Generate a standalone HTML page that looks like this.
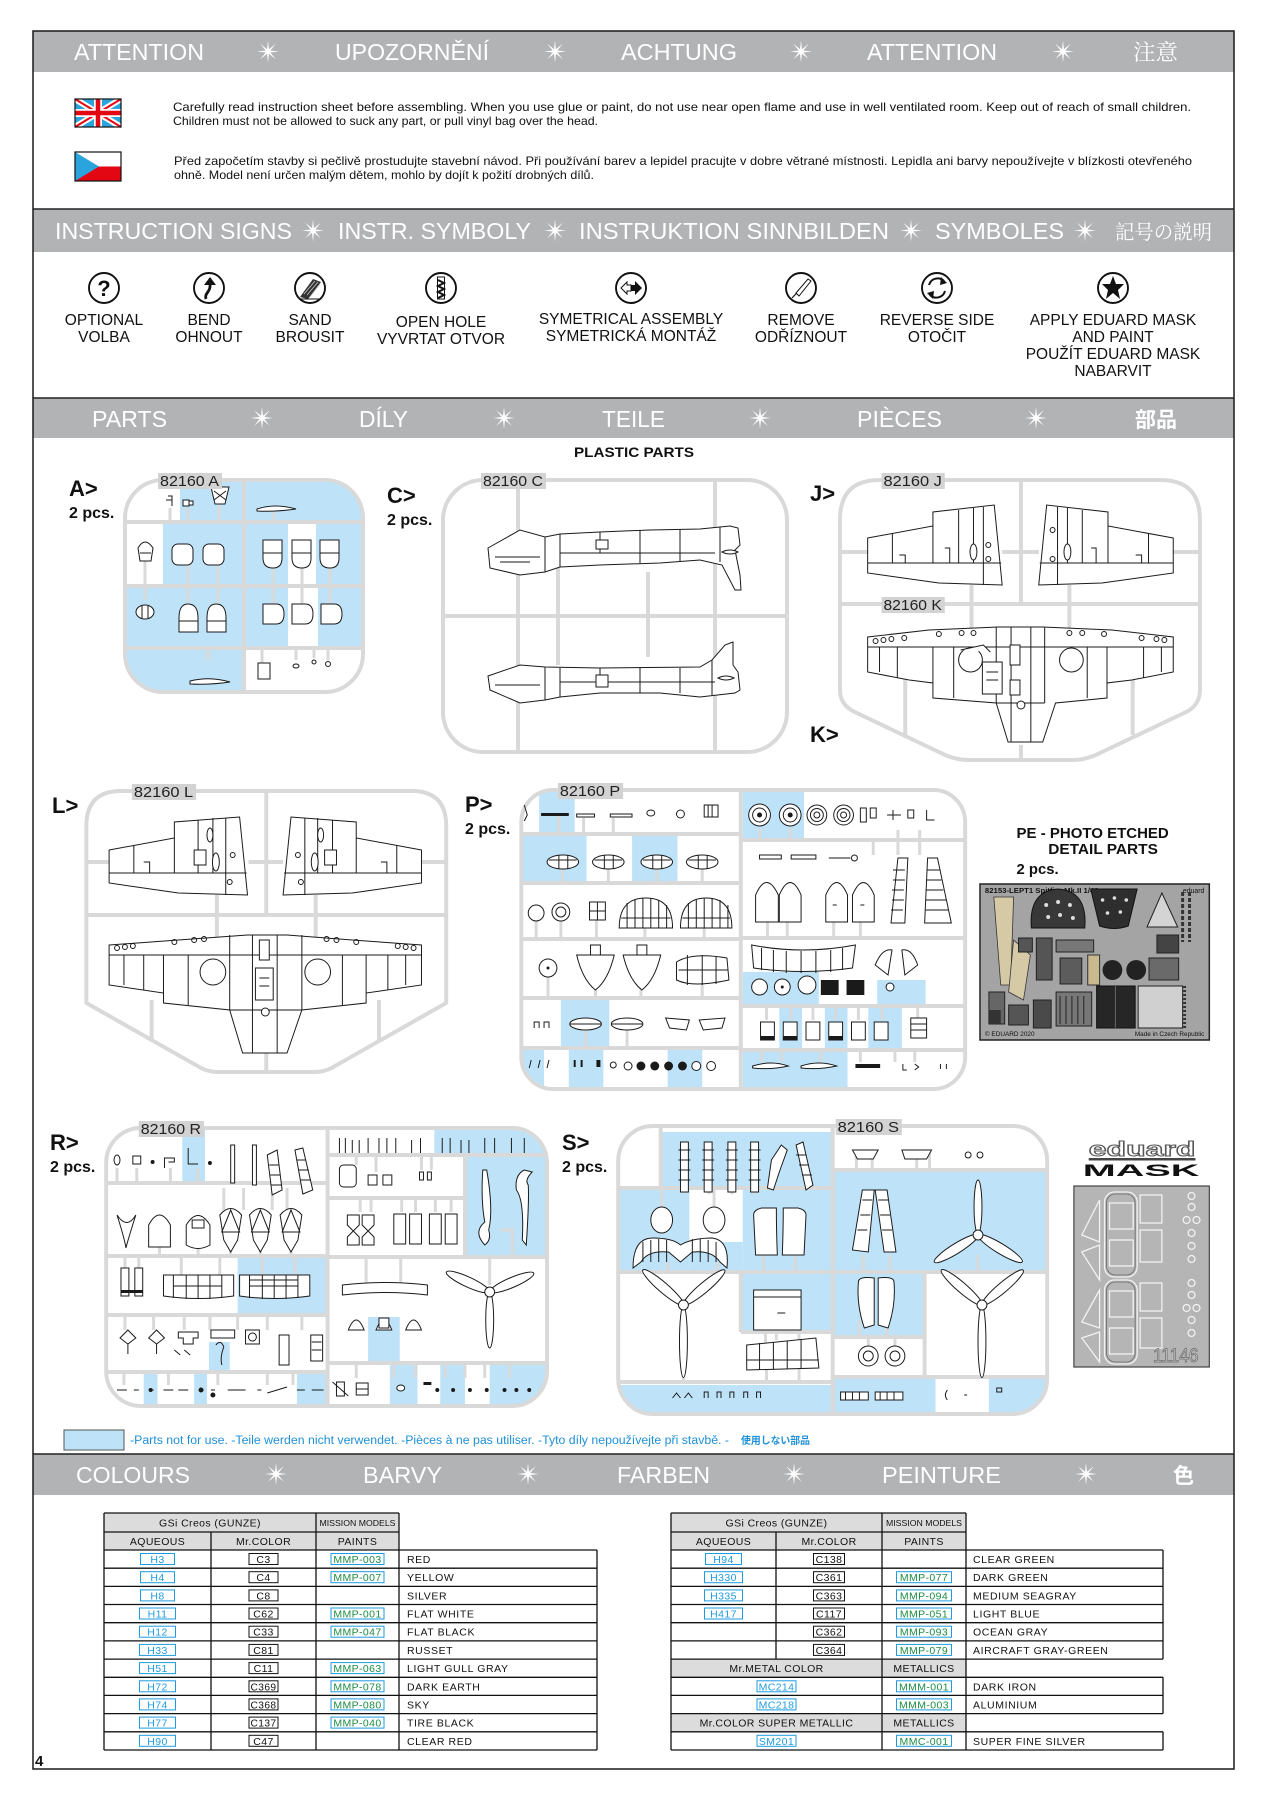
<!DOCTYPE html>
<html><head><meta charset="utf-8"><style>
html,body{margin:0;padding:0;background:#fff}
svg{display:block}
text{font-family:"Liberation Sans",Arial,sans-serif}
.g{stroke:#d9d9d9;stroke-width:4;fill:none}
.gt{stroke:#d9d9d9;stroke-width:3;fill:none}
.b{fill:#bee3f8}
.p{fill:#fff;stroke:#1a1a1a;stroke-width:1}
.n{fill:none;stroke:#1a1a1a;stroke-width:1}
.k{fill:#1a1a1a}
.hd{fill:#fff;font-size:23px}
.lb{font-size:15.5px;fill:#111;text-anchor:middle}
.sl{fill:#d3d3d3}
.st{font-size:15px;fill:#222}
.big{font-size:22px;font-weight:bold;fill:#111}
.pcs{font-size:16px;font-weight:bold;fill:#111}
.tt{font-size:10.5px;fill:#111;letter-spacing:0.6px}
.tc{font-size:10.5px;fill:#111;text-anchor:middle;letter-spacing:0.4px}
.hb{fill:#fff;stroke:#1e9be0;stroke-width:1}
.ht{font-size:10.5px;fill:#1e9be0;text-anchor:middle;letter-spacing:0.4px}
.cb{fill:#fff;stroke:#111;stroke-width:1}
.mt{font-size:10.5px;fill:#1c8c44;text-anchor:middle;letter-spacing:0.4px}
.tl{stroke:#111;stroke-width:1.3}
</style></head><body>
<svg width="1261" height="1797" viewBox="0 0 1261 1797" xmlns="http://www.w3.org/2000/svg">
<rect width="1261" height="1797" fill="#fff"/>

<!-- header bands -->
<rect x="33" y="31" width="1201" height="41" fill="#b2b3b5"/>
<rect x="33" y="209" width="1201" height="43" fill="#b2b3b5"/>
<rect x="33" y="398" width="1201" height="40" fill="#b2b3b5"/>
<rect x="33" y="1454" width="1201" height="41" fill="#b2b3b5"/>
<g stroke="#222" stroke-width="1.5">
<line x1="33" y1="209" x2="1234" y2="209"/>
<line x1="33" y1="398" x2="1234" y2="398"/>
<line x1="33" y1="1454" x2="1234" y2="1454"/>
</g>
<rect x="33" y="31" width="1201" height="1738" fill="none" stroke="#1a1a1a" stroke-width="1.5"/>

<!-- header 1 -->
<text class="hd" x="74" y="60" textLength="130" lengthAdjust="spacingAndGlyphs">ATTENTION</text>
<text class="hd" x="335" y="60" textLength="154" lengthAdjust="spacingAndGlyphs">UPOZORNĚNÍ</text>
<text class="hd" x="621" y="60" textLength="116" lengthAdjust="spacingAndGlyphs">ACHTUNG</text>
<text class="hd" x="867" y="60" textLength="130" lengthAdjust="spacingAndGlyphs">ATTENTION</text>
<text x="1133" y="60" fill="#fff" font-size="22" style="font-family:'Liberation Serif','Noto Serif CJK SC',serif" textLength="45" lengthAdjust="spacingAndGlyphs">注意</text>
<g fill="#fff">
<polygon transform="translate(268,51.5)" points="0,-11 0.96,-2.31 7.78,-7.78 2.31,-0.96 11,0 2.31,0.96 7.78,7.78 0.96,2.31 0,11 -0.96,2.31 -7.78,7.78 -2.31,0.96 -11,0 -2.31,-0.96 -7.78,-7.78 -0.96,-2.31"/>
<polygon transform="translate(555,51.5)" points="0,-11 0.96,-2.31 7.78,-7.78 2.31,-0.96 11,0 2.31,0.96 7.78,7.78 0.96,2.31 0,11 -0.96,2.31 -7.78,7.78 -2.31,0.96 -11,0 -2.31,-0.96 -7.78,-7.78 -0.96,-2.31"/>
<polygon transform="translate(801,51.5)" points="0,-11 0.96,-2.31 7.78,-7.78 2.31,-0.96 11,0 2.31,0.96 7.78,7.78 0.96,2.31 0,11 -0.96,2.31 -7.78,7.78 -2.31,0.96 -11,0 -2.31,-0.96 -7.78,-7.78 -0.96,-2.31"/>
<polygon transform="translate(1063,51.5)" points="0,-11 0.96,-2.31 7.78,-7.78 2.31,-0.96 11,0 2.31,0.96 7.78,7.78 0.96,2.31 0,11 -0.96,2.31 -7.78,7.78 -2.31,0.96 -11,0 -2.31,-0.96 -7.78,-7.78 -0.96,-2.31"/>
<polygon transform="translate(313,230.5)" points="0,-11 0.96,-2.31 7.78,-7.78 2.31,-0.96 11,0 2.31,0.96 7.78,7.78 0.96,2.31 0,11 -0.96,2.31 -7.78,7.78 -2.31,0.96 -11,0 -2.31,-0.96 -7.78,-7.78 -0.96,-2.31"/>
<polygon transform="translate(555,230.5)" points="0,-11 0.96,-2.31 7.78,-7.78 2.31,-0.96 11,0 2.31,0.96 7.78,7.78 0.96,2.31 0,11 -0.96,2.31 -7.78,7.78 -2.31,0.96 -11,0 -2.31,-0.96 -7.78,-7.78 -0.96,-2.31"/>
<polygon transform="translate(911,230.5)" points="0,-11 0.96,-2.31 7.78,-7.78 2.31,-0.96 11,0 2.31,0.96 7.78,7.78 0.96,2.31 0,11 -0.96,2.31 -7.78,7.78 -2.31,0.96 -11,0 -2.31,-0.96 -7.78,-7.78 -0.96,-2.31"/>
<polygon transform="translate(1085,230.5)" points="0,-11 0.96,-2.31 7.78,-7.78 2.31,-0.96 11,0 2.31,0.96 7.78,7.78 0.96,2.31 0,11 -0.96,2.31 -7.78,7.78 -2.31,0.96 -11,0 -2.31,-0.96 -7.78,-7.78 -0.96,-2.31"/>
<polygon transform="translate(262,418)" points="0,-11 0.96,-2.31 7.78,-7.78 2.31,-0.96 11,0 2.31,0.96 7.78,7.78 0.96,2.31 0,11 -0.96,2.31 -7.78,7.78 -2.31,0.96 -11,0 -2.31,-0.96 -7.78,-7.78 -0.96,-2.31"/>
<polygon transform="translate(504,418)" points="0,-11 0.96,-2.31 7.78,-7.78 2.31,-0.96 11,0 2.31,0.96 7.78,7.78 0.96,2.31 0,11 -0.96,2.31 -7.78,7.78 -2.31,0.96 -11,0 -2.31,-0.96 -7.78,-7.78 -0.96,-2.31"/>
<polygon transform="translate(760,418)" points="0,-11 0.96,-2.31 7.78,-7.78 2.31,-0.96 11,0 2.31,0.96 7.78,7.78 0.96,2.31 0,11 -0.96,2.31 -7.78,7.78 -2.31,0.96 -11,0 -2.31,-0.96 -7.78,-7.78 -0.96,-2.31"/>
<polygon transform="translate(1036,418)" points="0,-11 0.96,-2.31 7.78,-7.78 2.31,-0.96 11,0 2.31,0.96 7.78,7.78 0.96,2.31 0,11 -0.96,2.31 -7.78,7.78 -2.31,0.96 -11,0 -2.31,-0.96 -7.78,-7.78 -0.96,-2.31"/>
<polygon transform="translate(276,1474)" points="0,-11 0.96,-2.31 7.78,-7.78 2.31,-0.96 11,0 2.31,0.96 7.78,7.78 0.96,2.31 0,11 -0.96,2.31 -7.78,7.78 -2.31,0.96 -11,0 -2.31,-0.96 -7.78,-7.78 -0.96,-2.31"/>
<polygon transform="translate(528,1474)" points="0,-11 0.96,-2.31 7.78,-7.78 2.31,-0.96 11,0 2.31,0.96 7.78,7.78 0.96,2.31 0,11 -0.96,2.31 -7.78,7.78 -2.31,0.96 -11,0 -2.31,-0.96 -7.78,-7.78 -0.96,-2.31"/>
<polygon transform="translate(794,1474)" points="0,-11 0.96,-2.31 7.78,-7.78 2.31,-0.96 11,0 2.31,0.96 7.78,7.78 0.96,2.31 0,11 -0.96,2.31 -7.78,7.78 -2.31,0.96 -11,0 -2.31,-0.96 -7.78,-7.78 -0.96,-2.31"/>
<polygon transform="translate(1086,1474)" points="0,-11 0.96,-2.31 7.78,-7.78 2.31,-0.96 11,0 2.31,0.96 7.78,7.78 0.96,2.31 0,11 -0.96,2.31 -7.78,7.78 -2.31,0.96 -11,0 -2.31,-0.96 -7.78,-7.78 -0.96,-2.31"/>
</g>

<!-- attention body -->
<g>
<rect x="75" y="99" width="46" height="28" fill="#2aa4dc"/>
<path d="M75 99 L121 127 M121 99 L75 127" stroke="#fff" stroke-width="6"/>
<path d="M75 99 L121 127 M121 99 L75 127" stroke="#e30613" stroke-width="2"/>
<path d="M98 99 V127 M75 113 H121" stroke="#fff" stroke-width="8"/>
<path d="M98 99 V127 M75 113 H121" stroke="#e30613" stroke-width="4.5"/>
<rect x="75" y="99" width="46" height="28" fill="none" stroke="#111" stroke-width="1.2"/>
<rect x="75" y="152" width="46" height="14.5" fill="#fff"/>
<rect x="75" y="166.5" width="46" height="14.5" fill="#e30613"/>
<polygon points="75,152 99,166.5 75,181" fill="#2aa4dc"/>
<rect x="75" y="152" width="46" height="29" fill="none" stroke="#111" stroke-width="1.2"/>
</g>
<g font-size="12" fill="#111">
<text x="173" y="111" textLength="1018" lengthAdjust="spacingAndGlyphs">Carefully read instruction sheet before assembling. When you use glue or paint, do not use near open flame and use in well ventilated room. Keep out of reach of small children.</text>
<text x="173" y="125" textLength="425" lengthAdjust="spacingAndGlyphs">Children must not be allowed to suck any part, or pull vinyl bag over the head.</text>
<text x="174" y="165" textLength="1018" lengthAdjust="spacingAndGlyphs">Před započetím stavby si pečlivě prostudujte stavební návod. Při používání barev a lepidel pracujte v dobre větrané místnosti. Lepidla ani barvy nepoužívejte v blízkosti otevřeného</text>
<text x="174" y="179" textLength="420" lengthAdjust="spacingAndGlyphs">ohně. Model není určen malým dětem, mohlo by dojít k požití drobných dílů.</text>
</g>

<!-- header 2 text -->
<text class="hd" x="55" y="239" textLength="237" lengthAdjust="spacingAndGlyphs">INSTRUCTION SIGNS</text>
<text class="hd" x="338" y="239" textLength="193" lengthAdjust="spacingAndGlyphs">INSTR. SYMBOLY</text>
<text class="hd" x="579" y="239" textLength="310" lengthAdjust="spacingAndGlyphs">INSTRUKTION  SINNBILDEN</text>
<text class="hd" x="935" y="239" textLength="129" lengthAdjust="spacingAndGlyphs">SYMBOLES</text>
<text x="1115" y="239" fill="#fff" font-size="20" style="font-family:'Liberation Serif','Noto Serif CJK SC',serif" textLength="97" lengthAdjust="spacingAndGlyphs">記号の説明</text>

<!-- icons -->
<g fill="none" stroke="#111" stroke-width="1.9">
<ellipse cx="104" cy="288" rx="15" ry="15"/>
<ellipse cx="209" cy="288" rx="15" ry="15"/>
<ellipse cx="310" cy="288" rx="15" ry="15"/>
<ellipse cx="441" cy="288" rx="15" ry="15"/>
<ellipse cx="631" cy="288" rx="15" ry="15"/>
<ellipse cx="801" cy="288" rx="15" ry="15"/>
<ellipse cx="937" cy="288" rx="15" ry="15"/>
<ellipse cx="1113" cy="288" rx="15" ry="15"/>
</g>
<text x="104" y="296" font-size="22" font-weight="bold" text-anchor="middle" fill="#111">?</text>
<path d="M206 299 C204 293 211 292 210 284" fill="none" stroke="#111" stroke-width="2.8"/>
<polygon points="204,285 210,277 216,285" fill="#111"/>
<polygon points="300,297 313,279 321,282 308,299" fill="#333"/>
<path d="M304 294 L315 281 M307 295 L318 282 M310 297 L320 284" stroke="#ccc" stroke-width="0.8"/>
<path d="M301 299 L319 299" stroke="#111" stroke-width="1"/>
<rect x="437.5" y="277" width="7" height="22" fill="#fff" stroke="#111" stroke-width="1"/>
<path d="M438 280 L444 283 L438 286 L444 289 L438 292 L444 295 L438 298" fill="none" stroke="#111" stroke-width="2"/>
<polygon points="621,288 627,282 627,285 631,285 631,291 627,291 627,294" fill="#fff" stroke="#111" stroke-width="1"/>
<polygon points="642,288 635,281 635,285 631,285 631,291 635,291 635,295" fill="#111"/>
<path d="M792 298 L809 280" stroke="#111" stroke-width="1.2"/>
<polygon points="796,293 808,279 811,281 799,296" fill="#fff" stroke="#111" stroke-width="1"/>
<path d="M929 285 A9 9 0 0 1 944 281" fill="none" stroke="#111" stroke-width="2"/>
<polygon points="941,277 947,283 940,285" fill="#111"/>
<path d="M945 291 A9 9 0 0 1 930 295" fill="none" stroke="#111" stroke-width="2"/>
<polygon points="933,299 927,293 934,291" fill="#111"/>
<polygon points="1113,276 1116,284 1124,284 1118,290 1120,299 1113,293 1106,299 1108,290 1102,284 1110,284" fill="#111"/>

<g class="lb">
<text x="104" y="325">OPTIONAL</text><text x="104" y="342">VOLBA</text>
<text x="209" y="325">BEND</text><text x="209" y="342">OHNOUT</text>
<text x="310" y="325">SAND</text><text x="310" y="342">BROUSIT</text>
<text x="441" y="327">OPEN HOLE</text><text x="441" y="344">VYVRTAT OTVOR</text>
<text x="631" y="324">SYMETRICAL ASSEMBLY</text><text x="631" y="341">SYMETRICKÁ MONTÁŽ</text>
<text x="801" y="325">REMOVE</text><text x="801" y="342">ODŘÍZNOUT</text>
<text x="937" y="325">REVERSE SIDE</text><text x="937" y="342">OTOČIT</text>
<text x="1113" y="325">APPLY EDUARD MASK</text><text x="1113" y="342">AND PAINT</text>
<text x="1113" y="359">POUŽÍT EDUARD MASK</text><text x="1113" y="376">NABARVIT</text>
</g>

<!-- header 3 text -->
<text class="hd" x="92" y="427" textLength="75" lengthAdjust="spacingAndGlyphs">PARTS</text>
<text class="hd" x="359" y="427" textLength="49" lengthAdjust="spacingAndGlyphs">DÍLY</text>
<text class="hd" x="602" y="427" textLength="63" lengthAdjust="spacingAndGlyphs">TEILE</text>
<text class="hd" x="857" y="427" textLength="85" lengthAdjust="spacingAndGlyphs">PIÈCES</text>
<text x="1135" y="427" fill="#fff" font-size="21" font-weight="bold" style="font-family:'Liberation Sans','Noto Sans CJK JP',sans-serif" textLength="42" lengthAdjust="spacingAndGlyphs">部品</text>

<text x="634" y="457" font-size="14" font-weight="bold" text-anchor="middle" fill="#111" textLength="120" lengthAdjust="spacingAndGlyphs">PLASTIC PARTS</text>

<!-- big labels -->
<text class="big" x="69" y="496">A&gt;</text><text class="pcs" x="69" y="518">2 pcs.</text>
<text class="big" x="387" y="503">C&gt;</text><text class="pcs" x="387" y="525">2 pcs.</text>
<text class="big" x="810" y="501">J&gt;</text>
<text class="big" x="810" y="742">K&gt;</text>
<text class="big" x="52" y="813">L&gt;</text>
<text class="big" x="465" y="812">P&gt;</text><text class="pcs" x="465" y="834">2 pcs.</text>
<text class="big" x="50" y="1150">R&gt;</text><text class="pcs" x="50" y="1172">2 pcs.</text>
<text class="big" x="562" y="1150">S&gt;</text><text class="pcs" x="562" y="1172">2 pcs.</text>

<defs>
<clipPath id="cA"><rect x="125" y="480" width="238" height="212" rx="38"/></clipPath>
<clipPath id="cP"><rect x="527" y="790" width="449" height="299" rx="32"/></clipPath>
<clipPath id="cR"><rect x="107" y="1128" width="446" height="278" rx="35"/></clipPath>
<clipPath id="cS"><rect x="625" y="1126" width="434" height="288" rx="35"/></clipPath>
</defs>

<!-- ===== SPRUE A ===== -->
<g clip-path="url(#cA)" class="b">
<rect x="180" y="480" width="63" height="42"/><rect x="246" y="480" width="117" height="42"/>
<rect x="163" y="522" width="80" height="64"/><rect x="246" y="522" width="42" height="64"/><rect x="316" y="522" width="47" height="64"/>
<rect x="125" y="586" width="118" height="62"/><rect x="246" y="586" width="42" height="62"/><rect x="318" y="586" width="45" height="62"/>
<rect x="125" y="648" width="118" height="44"/>
</g>
<rect x="125" y="480" width="238" height="212" rx="38" class="g"/>
<g class="g">
<path d="M244 480 V692 M125 522 H363 M125 586 H363 M125 648 H363"/>
</g>
<g class="gt">
<path d="M170 508 V522 M188 508 V522 M219 505 V522 M274 512 V522 M145 560 V600 M188 565 V603 M218 565 V603 M273 568 V604 M302 568 V604 M330 568 V604 M208 648 V660 M262 648 V663 M296 648 V660 M314 648 V658 M328 648 V660"/>
</g>
<g>
<path class="n" d="M168 496 h4 v10 M166 500 h6" stroke-width="1.5"/>
<rect class="p" x="183" y="500" width="6" height="6"/><rect class="p" x="189" y="501" width="4" height="4"/>
<path class="p" d="M211 487 L229 487 L225 504 L215 504 Z"/><path class="n" d="M214 491 L226 500 M226 491 L214 500"/>
<path class="p" d="M257 509 Q275 503 296 509 Q275 512 257 511 Z"/>
<path class="p" d="M138 548 Q145 536 153 548 L151 561 L140 561 Z"/><path class="n" d="M140 553 H151"/>
<rect class="p" x="172" y="544" width="21" height="21" rx="6"/>
<rect class="p" x="203" y="544" width="21" height="21" rx="6"/>
<path class="p" d="M263 540 h19 v18 q0 10 -9 10 q-10 0 -10 -10 z"/><path class="n" d="M263 553 H282"/>
<path class="p" d="M292 540 h19 v18 q0 10 -9 10 q-10 0 -10 -10 z"/><path class="n" d="M292 553 H311"/>
<path class="p" d="M320 540 h19 v18 q0 10 -9 10 q-10 0 -10 -10 z"/><path class="n" d="M320 553 H339"/>
<ellipse class="p" cx="145" cy="612" rx="9" ry="7"/><path class="n" d="M142 606 V618 M148 606 V618"/>
<path class="p" d="M179 618 q0 -14 9 -14 q10 0 10 14 v14 h-19 z"/><path class="n" d="M179 621 H198"/>
<path class="p" d="M207 618 q0 -14 9 -14 q10 0 10 14 v14 h-19 z"/><path class="n" d="M207 621 H226"/>
<path class="p" d="M263 604 h13 q8 0 8 10 q0 10 -8 10 h-13 z"/>
<path class="p" d="M292 604 h13 q8 0 8 10 q0 10 -8 10 h-13 z"/>
<path class="p" d="M321 604 h13 q8 0 8 10 q0 10 -8 10 h-13 z"/>
<path class="p" d="M190 681 Q210 676 230 682 Q210 685 190 684 Z"/>
<rect class="p" x="258" y="663" width="12" height="16"/>
<ellipse class="p" cx="296" cy="666" rx="3" ry="2"/><circle class="p" cx="314" cy="662" r="2"/><circle class="p" cx="328" cy="664" r="2.5"/>
</g>
<rect class="sl" x="158" y="473" width="64" height="16"/>
<text class="st" x="160" y="486" textLength="59" lengthAdjust="spacingAndGlyphs">82160 A</text>

<!-- ===== SPRUE C ===== -->
<rect x="443" y="480" width="344" height="272" rx="40" class="g"/>
<path class="g" d="M518 480 V752 M715 480 V752 M443 616 H787 M558 568 V665 M648 572 V657"/>
<path class="p" d="M488 548 L520 530 L545 537 L560 534 L600 532 L650 530 L700 529 L730 526 L738 528 L740 545 L735 550 L740 575 L741 590 L735 590 L722 565 L700 560 L660 563 L600 565 L560 567 L545 572 L520 575 L490 568 Z"/>
<path class="n" d="M545 537 V572 M560 534 V567 M560 553 H715 M600 532 V553 M640 531 V563 M680 530 V561 M720 527 V562 M495 557 H540 M500 562 H530"/>
<rect class="p" x="596" y="540" width="12" height="9"/>
<path class="p" d="M722 552 Q730 548 738 552 Q730 556 722 552 Z" fill="#888"/>
<path class="p" d="M488 676 L520 665 L545 667 L600 668 L700 667 L712 660 L725 645 L733 642 L733 665 L738 672 L740 690 L735 693 L700 697 L660 693 L600 693 L560 697 L545 700 L520 703 L490 690 Z"/>
<path class="n" d="M545 667 V700 M560 668 V697 M560 682 H715 M600 668 V682 M640 668 V693 M680 668 V693 M712 660 V695 M495 685 H540"/>
<rect class="p" x="596" y="675" width="12" height="12"/>
<path class="p" d="M718 678 Q726 674 734 678 Q726 682 718 678 Z" fill="#888"/>
<rect class="sl" x="481" y="473" width="65" height="16"/>
<text class="st" x="483" y="486" textLength="60" lengthAdjust="spacingAndGlyphs">82160 C</text>

<!-- ===== SPRUE J / K ===== -->
<g transform="translate(9.2,0) scale(0.989,1)">
<path class="g" d="M880 480 H1164 Q1204 480 1204 520 V690 Q1204 705 1190 712 L1105 752 Q1090 760 1075 760 H970 Q955 760 940 752 L855 712 Q840 705 840 690 V520 Q840 480 880 480 Z"/>
<path class="g" d="M840 604 H1204 M1023 480 V604 M1023 745 V760 M973 585 V628 M1072 585 V628 M906 675 V735 M1136 675 V735 M840 552 H868 M1004 552 H1041 M1177 552 H1204"/>
<path class="p" d="M868 538 L934 526 L934 512 L996 505 L1004 585 L940 583 L868 573 Z"/>
<path class="n" d="M868 563 H1003 M934 526 V563 M893 533 V563 M960 510 V563 M975 508 V563 M985 507 V585 M900 555 h6 v8 M946 548 h5 v15"/>
<ellipse class="p" cx="975" cy="552" rx="3.5" ry="8"/><circle class="p" cx="990" cy="545" r="2.5"/><circle class="p" cx="990" cy="559" r="2.5"/>
<path class="p" d="M1177 538 L1111 526 L1111 512 L1049 505 L1041 585 L1105 583 L1177 573 Z"/>
<path class="n" d="M1177 563 H1042 M1111 526 V563 M1152 533 V563 M1085 510 V563 M1070 508 V563 M1060 507 V585 M1139 555 h6 v8 M1094 548 h5 v15"/>
<ellipse class="p" cx="1070" cy="552" rx="3.5" ry="8"/><circle class="p" cx="1055" cy="559" r="2.5"/><circle class="p" cx="1055" cy="530" r="2.5"/>
<path class="p" d="M868 637 L930 630 L1000 627 L1045 627 L1115 630 L1177 637 L1177 672 L1135 680 L1110 683 L1110 698 L1058 703 L1045 742 L1010 742 L998 703 L934 698 L934 683 L910 680 L868 672 Z"/>
<path class="n" d="M868 647 H1177 M880 647 V672 M898 647 V678 M934 647 V683 M955 647 V698 M1090 647 V698 M1110 647 V683 M1147 647 V678 M1165 647 V672 M998 627 V703 M1047 627 V703 M1013 627 V742 M1033 627 V742 M998 703 H1047"/>
<circle class="p" cx="972" cy="660" r="12"/><circle class="p" cx="1074" cy="660" r="12"/>
<path class="p" d="M962 650 L985 645 L992 652" />
<rect class="p" x="984" y="662" width="20" height="32" fill="#e0e0e0"/><path class="n" d="M988 672 H1000 M988 680 H1000"/>
<rect class="p" x="1012" y="645" width="10" height="20"/><rect class="p" x="1012" y="680" width="10" height="15"/>
<circle class="p" cx="1023" cy="705" r="4"/>
<g class="n"><circle cx="876" cy="641" r="2.5"/><circle cx="884" cy="640" r="2.5"/><circle cx="892" cy="639" r="2.5"/><circle cx="905" cy="638" r="2.5"/><circle cx="940" cy="634" r="2.5"/><circle cx="963" cy="633" r="2.5"/><circle cx="975" cy="633" r="2.5"/><circle cx="1072" cy="633" r="2.5"/><circle cx="1085" cy="633" r="2.5"/><circle cx="1107" cy="634" r="2.5"/><circle cx="1145" cy="638" r="2.5"/><circle cx="1160" cy="639" r="2.5"/><circle cx="1168" cy="640" r="2.5"/></g>
<rect class="sl" x="882" y="473" width="64" height="16"/>
<text class="st" x="884" y="486" textLength="59" lengthAdjust="spacingAndGlyphs">82160 J</text>
<rect class="sl" x="882" y="597" width="64" height="16"/>
<text class="st" x="884" y="610" textLength="59" lengthAdjust="spacingAndGlyphs">82160 K</text>
</g>

<!-- ===== zoom-derived lower group, horizontally corrected ===== -->
<g transform="translate(0.38,0) scale(0.9885,1)">

<!-- SPRUE L -->
<path class="g" d="M122 791 H416 Q451 791 451 826 V1003 L335 1068 Q327 1072 318 1072 H220 Q211 1072 203 1068 L87 1003 V826 Q87 791 122 791 Z"/>
<path class="g" d="M87 915 H451 M269 791 V915 M87 862 H110 M251 862 H286 M424 862 H451 M219 895 V937 M319 895 V937 M153 1000 V1040 M383 1000 V1040 M269 1053 V1072"/>
<path class="p" d="M110 850 L176 838 L176 822 L242 817 L250 895 L180 893 L110 883 Z"/>
<path class="n" d="M110 873 H249 M176 838 V873 M135 845 V873 M200 820 V873 M215 818 V873 M228 818 V895 M145 862 h6 v11"/>
<ellipse class="p" cx="218" cy="862" rx="3.5" ry="9"/><ellipse class="p" cx="212" cy="835" rx="3" ry="7"/><circle class="p" cx="235" cy="855" r="2.5"/><circle class="p" cx="232" cy="882" r="2.5"/>
<rect class="p" x="196" y="850" width="12" height="15"/>
<path class="p" d="M426 850 L360 838 L360 822 L294 817 L286 895 L356 893 L426 883 Z"/>
<path class="n" d="M426 873 H287 M360 838 V873 M401 845 V873 M336 820 V873 M321 818 V873 M308 818 V895 M385 862 h6 v11"/>
<ellipse class="p" cx="318" cy="862" rx="3.5" ry="9"/><ellipse class="p" cx="324" cy="835" rx="3" ry="7"/><circle class="p" cx="301" cy="855" r="2.5"/><circle class="p" cx="304" cy="882" r="2.5"/>
<rect class="p" x="328" y="850" width="12" height="15"/>
<path class="p" d="M110 945 L180 940 L250 935 L290 935 L356 940 L426 945 L426 985 L370 993 L370 1003 L305 1010 L290 1053 L245 1053 L232 1010 L165 1003 L165 993 L110 985 Z"/>
<path class="n" d="M110 955 H426 M125 955 V985 M145 955 V990 M165 955 V993 M190 955 V1005 M346 955 V1005 M370 955 V993 M392 955 V990 M410 955 V985 M232 935 V1010 M305 935 V1010 M255 935 V1053 M280 935 V1053 M232 1010 H305"/>
<circle class="p" cx="215" cy="972" r="13"/><circle class="p" cx="321" cy="972" r="13"/>
<rect class="p" x="258" y="968" width="18" height="32" fill="#e0e0e0"/><path class="n" d="M262 978 H272 M262 986 H272"/>
<rect class="p" x="262" y="940" width="10" height="20"/><circle class="p" cx="268" cy="1012" r="4"/>
<g class="n"><circle cx="118" cy="948" r="2.5"/><circle cx="126" cy="947" r="2.5"/><circle cx="134" cy="946" r="2.5"/><circle cx="176" cy="942" r="2.5"/><circle cx="196" cy="940" r="2.5"/><circle cx="206" cy="939" r="2.5"/><circle cx="330" cy="939" r="2.5"/><circle cx="340" cy="940" r="2.5"/><circle cx="360" cy="942" r="2.5"/><circle cx="402" cy="946" r="2.5"/><circle cx="410" cy="947" r="2.5"/><circle cx="418" cy="948" r="2.5"/></g>
<rect class="sl" x="133" y="784" width="65" height="16"/>
<text class="st" x="135" y="797" textLength="60" lengthAdjust="spacingAndGlyphs">82160 L</text>

<!-- SPRUE P -->
<g clip-path="url(#cP)" class="b">
<rect x="545" y="790" width="36" height="44"/><rect x="751" y="790" width="62" height="50"/>
<rect x="528" y="834" width="65" height="49"/><rect x="639" y="834" width="46" height="49"/>
<rect x="751" y="972" width="77" height="34"/><rect x="887" y="980" width="49" height="26"/>
<rect x="567" y="998" width="49" height="50"/>
<rect x="527" y="1048" width="23" height="41"/><rect x="575" y="1048" width="35" height="41"/><rect x="675" y="1048" width="35" height="41"/>
<rect x="788" y="1006" width="23" height="44"/><rect x="834" y="1006" width="23" height="44"/><rect x="878" y="1006" width="34" height="44"/>
<rect x="751" y="1050" width="106" height="39"/>
</g>
<rect x="527" y="790" width="449" height="299" rx="32" class="g"/>
<path class="g" d="M749 790 V1089 M527 834 H749 M527 883 H749 M527 939 H749 M527 998 H749 M527 1048 H749 M749 840 H976 M749 938 H976 M749 1006 H976 M749 1050 H976"/>
<path class="gt" d="M565 815 V834 M590 818 V834 M620 818 V834 M569 868 V883 M615 868 V883 M664 868 V883 M710 868 V883 M542 921 V939 M567 921 V939 M603 920 V939 M652 926 V939 M712 926 V939 M554 977 V998 M602 984 V998 M648 984 V998 M710 984 V998 M592 1030 V1048 M634 1030 V1048 M768 828 V840 M799 828 V840 M883 840 V855 M908 830 V855 M930 830 V855 M776 922 V938 M796 922 V938 M843 922 V938 M870 922 V938 M775 1006 V1020 M800 1006 V1020 M822 1006 V1020 M845 1006 V1020 M868 1006 V1020 M892 1006 V1020 M928 1006 V1020 M770 1050 V1062 M790 1050 V1062 M830 1050 V1062 M870 1050 V1062 M905 1050 V1062 M925 1050 V1062"/>
<g>
<path class="n" d="M530 805 l3 10 l-3 6" stroke-width="1.5"/>
<rect class="k" x="547" y="813" width="28" height="3"/>
<path class="p" d="M583 814 h18 v3 h-18 z M617 814 h22 v3 h-22 z"/>
<ellipse class="p" cx="658" cy="813" rx="4" ry="3"/><ellipse class="p" cx="688" cy="814" rx="4" ry="4"/>
<rect class="p" x="712" y="805" width="14" height="12"/><path class="n" d="M716 805 V817 M720 805 V817"/>
<circle class="p" cx="768" cy="815" r="11"/><circle class="n" cx="768" cy="815" r="7" stroke-width="2.5"/><circle class="k" cx="768" cy="815" r="2.5"/>
<circle class="p" cx="799" cy="815" r="11"/><circle class="n" cx="799" cy="815" r="7" stroke-width="2.5"/><circle class="k" cx="799" cy="815" r="2.5"/>
<circle class="p" cx="826" cy="815" r="10"/><circle class="n" cx="826" cy="815" r="6.5"/><circle class="n" cx="826" cy="815" r="3"/>
<circle class="p" cx="853" cy="815" r="10"/><circle class="n" cx="853" cy="815" r="6.5"/><circle class="n" cx="853" cy="815" r="3"/>
<path class="p" d="M870 808 h6 v14 h-6 z M880 808 h6 v10 h-6 z"/>
<path class="p" d="M897 815 h14 M903 810 v10 M918 810 h6 v8 h-6 z" />
<path class="n" d="M937 810 v10 h8" stroke-width="1.5"/>
<ellipse class="p" cx="569" cy="862" rx="16" ry="7"/><path class="n" d="M555 860 H583 M565 855 V869 M574 855 V869"/>
<ellipse class="p" cx="615" cy="862" rx="16" ry="7"/><path class="n" d="M601 860 H629 M611 855 V869 M620 855 V869"/>
<ellipse class="p" cx="664" cy="862" rx="16" ry="7"/><path class="n" d="M650 860 H678 M660 855 V869 M669 855 V869"/>
<ellipse class="p" cx="710" cy="862" rx="16" ry="7"/><path class="n" d="M696 860 H724 M706 855 V869 M715 855 V869"/>
<path class="p" d="M768 855 h22 v4 h-22 z M800 855 h25 v4 h-25 z"/><path class="p" d="M838 858 h22"/><circle class="p" cx="864" cy="858" r="3"/>
<path class="p" d="M764 922 V895 Q775 870 787 895 V922 Z"/><path class="p" d="M788 922 V895 Q799 870 810 895 V922 Z"/>
<path class="p" d="M835 922 V895 Q846 870 857 895 V922 Z"/><path class="p" d="M862 922 V895 Q873 870 884 895 V922 Z"/>
<path class="n" d="M842 905 h4 M870 905 h4"/>
<path class="p" d="M908 858 L901 923 H915 L918 858 Z"/><path class="n" d="M903 870 h12 M903 880 h12 M902 890 h12 M902 900 h12 M901 910 h12"/>
<path class="p" d="M938 858 L935 923 H962 L948 858 Z"/><path class="n" d="M937 870 h13 M937 880 h15 M936 890 h18 M936 900 h21 M936 910 h23"/>
<circle class="p" cx="542" cy="913" r="8"/>
<circle class="p" cx="567" cy="912" r="9"/><circle class="n" cx="567" cy="912" r="5"/>
<rect class="p" x="596" y="902" width="16" height="18"/><path class="n" d="M604 902 V920 M596 911 H612"/>
<path class="p" d="M626 928 Q626 898 653 898 Q680 898 680 928 Z"/><path class="n" d="M634 903 V928 M642 899 V928 M650 898 V928 M658 898 V928 M666 900 V928 M674 905 V928 M628 918 H678"/>
<path class="p" d="M688 928 Q688 898 714 898 Q740 898 740 928 Z"/><path class="n" d="M696 903 V928 M704 899 V928 M712 898 V928 M720 898 V928 M728 900 V928 M736 905 V928 M690 918 H738"/>
<path class="p" d="M760 945 Q812 955 865 945 L862 968 Q812 975 762 968 Z"/><path class="n" d="M770 948 V970 M782 950 V972 M795 951 V973 M810 951 V973 M825 951 V973 M840 950 V972 M852 948 V970"/>
<path class="p" d="M885 965 Q892 948 902 950 L898 975 Z"/><path class="p" d="M912 950 Q922 948 928 965 L915 975 Z"/>
<circle class="p" cx="768" cy="987" r="8"/><circle class="p" cx="791" cy="987" r="8"/><circle class="k" cx="791" cy="987" r="1.5"/><circle class="p" cx="816" cy="985" r="9"/>
<rect class="k" x="830" y="980" width="18" height="15"/><rect class="k" x="856" y="980" width="18" height="15"/>
<circle class="p" cx="900" cy="987" r="4"/>
<circle class="p" cx="554" cy="968" r="9"/><circle class="k" cx="554" cy="968" r="1.5"/>
<path class="p" d="M583 955 H621 Q615 980 602 990 Q589 980 583 955 Z"/><rect class="p" x="597" y="945" width="10" height="10"/>
<path class="p" d="M630 955 H668 Q662 980 649 990 Q636 980 630 955 Z"/><rect class="p" x="644" y="945" width="10" height="10"/>
<path class="p" d="M684 962 Q700 952 735 958 L737 980 Q700 988 684 980 Z"/><path class="n" d="M695 955 V985 M710 955 V985 M724 956 V984 M686 970 H736"/>
<path class="p" d="M540 1028 v-6 h5 v6 M550 1028 v-6 h5 v6"/>
<ellipse class="p" cx="592" cy="1024" rx="16" ry="6"/><path class="n" d="M576 1024 H608"/>
<ellipse class="p" cx="634" cy="1024" rx="16" ry="6"/><path class="n" d="M618 1024 H650"/>
<path class="p" d="M673 1018 L697 1020 L694 1030 L677 1028 Z"/><path class="p" d="M707 1020 L733 1018 L730 1028 L711 1030 Z"/>
<rect class="p" x="769" y="1022" width="14" height="18"/><rect class="p" x="792" y="1022" width="14" height="18"/><rect class="p" x="815" y="1022" width="14" height="18"/><rect class="p" x="838" y="1022" width="14" height="18"/><rect class="p" x="861" y="1022" width="14" height="18"/><rect class="p" x="884" y="1022" width="14" height="18"/>
<rect class="k" x="769" y="1036" width="14" height="4"/><rect class="k" x="792" y="1036" width="14" height="4"/><rect class="k" x="838" y="1036" width="14" height="4"/>
<rect class="p" x="921" y="1018" width="16" height="20"/><path class="n" d="M921 1024 H937 M921 1030 H937"/>
<path class="n" d="M537 1060 l-2 8 M546 1060 l-2 8 M555 1060 l-2 8" stroke-width="1.5"/>
<g class="k"><rect x="580" y="1060" width="2" height="7"/><rect x="587" y="1060" width="2" height="7"/><rect x="603" y="1060" width="4" height="7"/></g>
<circle class="p" cx="620" cy="1065" r="3"/><circle class="p" cx="635" cy="1066" r="4"/><circle class="k" cx="648" cy="1066" r="4.5"/><circle class="k" cx="662" cy="1066" r="4.5"/><circle class="k" cx="676" cy="1066" r="4.5"/><circle class="k" cx="690" cy="1066" r="4.5"/><circle class="p" cx="704" cy="1066" r="4.5"/><circle class="p" cx="719" cy="1066" r="4.5"/>
<path class="p" d="M761 1066 Q780 1060 797 1066 Q780 1070 761 1068 Z"/><path class="p" d="M810 1066 Q828 1060 846 1066 Q828 1070 810 1068 Z"/>
<rect class="k" x="865" y="1064" width="25" height="4"/>
<path class="n" d="M913 1064 v6 h4 M925 1064 l4 3 l-4 3 M951 1064 v5 M957 1064 v5"/>
</g>
<rect class="sl" x="564" y="783" width="66" height="16"/>
<text class="st" x="566" y="796" textLength="61" lengthAdjust="spacingAndGlyphs">82160 P</text>

<!-- PE -->
<text x="1028" y="838" font-size="15" font-weight="bold" fill="#111" textLength="154" lengthAdjust="spacingAndGlyphs">PE - PHOTO ETCHED</text>
<text x="1060" y="854" font-size="15" font-weight="bold" fill="#111" textLength="111" lengthAdjust="spacingAndGlyphs">DETAIL PARTS</text>
<text x="1028" y="874" font-size="15" font-weight="bold" fill="#111">2 pcs.</text>
<rect x="991" y="884" width="232" height="156" fill="#a4a4a4" stroke="#222" stroke-width="1.5"/>
<text x="996" y="893" font-size="7" font-weight="bold" fill="#111" textLength="115" lengthAdjust="spacingAndGlyphs">82153-LEPT1  Spitfire Mk.II  1/48</text>
<text x="1218" y="893" font-size="7" fill="#111" text-anchor="end">eduard</text>
<path d="M1005 897 L1025 897 L1022 985 L1012 985 Z" fill="#d6c9a6" stroke="#333" stroke-width="0.8"/>
<path d="M1025 940 L1042 955 L1035 1000 L1020 992 Z" fill="#d6c9a6" stroke="#333" stroke-width="0.8"/>
<path d="M1043 928 Q1040 891 1070 889 Q1100 891 1097 928 Z" fill="#383838" stroke="#111"/>
<g fill="#ddd"><circle cx="1058" cy="905" r="2"/><circle cx="1070" cy="902" r="2"/><circle cx="1082" cy="905" r="2"/><circle cx="1060" cy="917" r="2"/><circle cx="1072" cy="915" r="2"/><circle cx="1085" cy="918" r="2"/></g>
<path d="M1103 889 H1150 L1141 926 Q1127 931 1112 926 Z" fill="#2e2e2e" stroke="#111"/>
<g fill="#ddd"><circle cx="1115" cy="900" r="1.8"/><circle cx="1127" cy="898" r="1.8"/><circle cx="1139" cy="900" r="1.8"/><circle cx="1120" cy="913" r="1.8"/><circle cx="1133" cy="912" r="1.8"/></g>
<path d="M1160 927 L1175 893 L1191 927 Z" fill="#d4d4d4" stroke="#222"/>
<path d="M1196 892 v50 M1203 892 v50" stroke="#333" stroke-width="3" stroke-dasharray="4 2"/>
<rect x="1048" y="938" width="16" height="42" fill="#555" stroke="#222"/>
<rect x="1068" y="940" width="38" height="12" fill="#777" stroke="#222"/>
<rect x="1072" y="958" width="22" height="26" fill="#5c5c5c" stroke="#222"/>
<path d="M1100 955 h12 v30 h-12 z" fill="#c9b98f" stroke="#333"/>
<circle cx="1125" cy="970" r="10" fill="#222"/><circle cx="1149" cy="970" r="10" fill="#222"/>
<rect x="1162" y="958" width="30" height="22" fill="#6a6a6a" stroke="#222"/>
<rect x="1170" y="935" width="22" height="18" fill="#444" stroke="#222"/>
<rect x="1109" y="986" width="39" height="42" fill="#262626" stroke="#111"/>
<path d="M1128 986 V1028" stroke="#666"/>
<rect x="1151" y="986" width="45" height="42" fill="#d0d0d0" stroke="#222"/>
<path d="M1198 986 v42" stroke="#333" stroke-width="3" stroke-dasharray="2 2"/>
<rect x="1000" y="992" width="16" height="32" fill="#666" stroke="#222"/>
<rect x="1020" y="1005" width="20" height="20" fill="#555" stroke="#222"/>
<rect x="1045" y="1000" width="18" height="28" fill="#4a4a4a" stroke="#222"/>
<rect x="1068" y="992" width="36" height="34" fill="#777" stroke="#222"/>
<path d="M1072 996 v28 M1078 996 v28 M1084 996 v28 M1090 996 v28 M1096 996 v28" stroke="#222"/>
<rect x="1030" y="938" width="14" height="14" fill="#555" stroke="#222"/>
<rect x="1000" y="1010" width="12" height="14" fill="#333"/>
<text x="996" y="1036" font-size="6.5" fill="#111">© EDUARD 2020</text>
<text x="1218" y="1036" font-size="6.5" fill="#111" text-anchor="end">Made in Czech Republic</text>

<!-- SPRUE R -->
<g clip-path="url(#cR)" class="b">
<rect x="184" y="1128" width="23" height="55"/><rect x="439" y="1128" width="114" height="27"/><rect x="470" y="1155" width="83" height="102"/>
<rect x="240" y="1256" width="91" height="59"/><rect x="211" y="1342" width="21" height="30"/>
<rect x="145" y="1372" width="14" height="34"/><rect x="196" y="1372" width="13" height="34"/><rect x="300" y="1372" width="31" height="34"/>
<rect x="372" y="1317" width="32" height="46"/><rect x="394" y="1363" width="28" height="43"/><rect x="445" y="1363" width="25" height="43"/><rect x="495" y="1363" width="58" height="43"/>
</g>
<rect x="107" y="1128" width="446" height="278" rx="35" class="g"/>
<path class="g" d="M331 1128 V1406 M107 1183 H331 M107 1256 H331 M107 1315 H331 M107 1372 H331 M331 1155 H553 M331 1198 H470 M470 1155 V1257 M331 1257 H553 M331 1363 H553"/>
<path class="gt" d="M118 1168 V1183 M138 1168 V1183 M172 1168 V1183 M200 1168 V1183 M226 1188 V1215 M246 1188 V1210 M275 1188 V1210 M290 1188 V1210 M161 1240 V1256 M200 1245 V1256 M233 1245 V1256 M263 1245 V1256 M294 1245 V1256 M126 1256 V1270 M140 1256 V1270 M183 1256 V1278 M222 1256 V1278 M265 1256 V1278 M298 1256 V1278 M126 1315 V1330 M155 1315 V1330 M186 1315 V1330 M212 1315 V1330 M240 1315 V1330 M270 1315 V1330 M305 1315 V1330 M125 1372 V1385 M170 1372 V1385 M220 1372 V1385 M270 1372 V1385 M296 1372 V1385 M360 1155 V1165 M380 1155 V1172 M426 1155 V1170 M436 1155 V1170 M364 1198 V1212 M375 1198 V1212 M406 1198 V1212 M420 1198 V1212 M440 1198 V1212 M456 1198 V1212 M370 1257 V1283 M405 1257 V1283 M495 1257 V1285 M506 1230 H518 V1257 M360 1363 V1378 M398 1363 V1378 M420 1363 V1378 M450 1363 V1378 M470 1363 V1378 M490 1363 V1378 M515 1363 V1378"/>
<g>
<ellipse class="p" cx="118" cy="1160" rx="3" ry="5"/><rect class="p" x="134" y="1156" width="8" height="8"/><circle class="k" cx="154" cy="1162" r="2"/>
<path class="n" d="M166 1168 v-10 h10 v4 h-6" stroke-width="1.5"/><path class="n" d="M190 1148 v16 h10" stroke-width="2"/><circle class="k" cx="212" cy="1163" r="2"/>
<path class="p" d="M233 1145 h4 v38 h-4 z M255 1145 h4 v40 h-4 z"/>
<path class="p" d="M270 1155 L280 1150 L285 1190 L275 1195 Z"/><path class="n" d="M272 1165 h10 M273 1175 h10 M274 1185 h10"/>
<path class="p" d="M298 1150 L306 1148 L316 1190 L306 1194 Z"/><path class="n" d="M300 1160 h9 M302 1170 h10 M304 1180 h10"/>
<path class="n" d="M343 1138 v15 M349 1138 v15 M356 1140 v13 M363 1140 v13 M372 1138 v15 M383 1138 v15 M391 1138 v15 M400 1138 v15 M416 1140 v13 M425 1138 v15 M447 1138 v15 M455 1138 v15 M466 1140 v13 M474 1140 v13 M490 1138 v15 M500 1138 v15 M517 1138 v15 M530 1138 v15" stroke-width="1.8"/>
<rect class="p" x="343" y="1165" width="17" height="22" rx="4"/><rect class="p" x="372" y="1175" width="9" height="10"/><rect class="p" x="387" y="1175" width="9" height="10"/>
<path class="n" d="M424 1172 h4 v8 h-4 z M432 1172 h4 v8 h-4 z"/>
<path class="p" d="M488 1170 Q486 1200 490 1222 Q478 1232 490 1245 Q497 1240 494 1230 Q499 1210 492 1170 Z"/>
<path class="p" d="M530 1170 Q520 1175 522 1190 Q530 1200 528 1240 L532 1245 Q535 1200 534 1185 Q530 1180 538 1172 Z"/>
<path class="p" d="M351 1215 h12 v10 l-6 6 l6 6 v8 h-12 v-8 l6 -6 l-6 -6 z"/><path class="p" d="M366 1215 h12 v10 l-6 6 l6 6 v8 h-12 v-8 l6 -6 l-6 -6 z"/>
<path class="p" d="M398 1214 h12 v30 h-12 z M414 1214 h12 v30 h-12 z"/><path class="p" d="M434 1214 h12 v30 h-12 z M450 1214 h12 v30 h-12 z"/>
<path class="p" d="M118 1215 Q126 1240 127 1248 Q129 1240 137 1215 Q128 1230 118 1215 Z"/>
<path class="p" d="M150 1247 V1225 Q161 1205 172 1225 V1247 Z"/>
<path class="p" d="M188 1245 V1225 Q200 1206 212 1225 V1245 Q200 1252 188 1245 Z"/><rect class="p" x="194" y="1220" width="12" height="8"/>
<path class="p" d="M222 1215 Q233 1202 244 1215 L240 1240 L233 1252 L226 1240 Z"/><path class="n" d="M224 1232 L233 1210 L242 1232 Z"/>
<path class="p" d="M252 1215 Q263 1202 274 1215 L270 1240 L263 1252 L256 1240 Z"/><path class="n" d="M254 1232 L263 1210 L272 1232 Z"/>
<path class="p" d="M283 1215 Q294 1202 305 1215 L301 1240 L294 1252 L287 1240 Z"/><path class="n" d="M285 1232 L294 1210 L303 1232 Z"/>
<path class="p" d="M122 1268 h8 v28 h-8 z M136 1268 h8 v28 h-8 z"/><rect class="k" x="122" y="1290" width="22" height="3"/>
<path class="p" d="M165 1275 H236 V1296 Q200 1301 165 1296 Z"/><path class="n" d="M175 1275 V1298 M188 1275 V1299 M200 1275 V1299 M212 1275 V1299 M224 1275 V1298 M175 1286 H224"/>
<path class="p" d="M242 1275 H313 V1296 Q277 1301 242 1296 Z"/><path class="n" d="M252 1275 V1298 M265 1275 V1299 M277 1275 V1299 M289 1275 V1299 M301 1275 V1298 M252 1286 H301 M252 1280 H301"/>
<path class="p" d="M121 1338 l8 -8 l8 8 l-8 6 z M150 1338 l8 -8 l8 8 l-8 6 z"/><path class="n" d="M129 1344 v10 M158 1344 v10"/>
<path class="p" d="M180 1332 h20 v6 h-5 v6 h-10 v-6 h-5 z"/><path class="p" d="M213 1330 h24 v8 h-24 z"/><rect class="p" x="248" y="1330" width="14" height="14"/><circle class="n" cx="255" cy="1337" r="4"/>
<path class="p" d="M282 1335 h10 v30 h-10 z"/><path class="p" d="M314 1335 h12 v26 h-12 z"/><path class="n" d="M315 1342 h10 M315 1350 h10"/>
<path class="n" d="M218 1345 q5 -6 8 2 q-4 10 -2 18" stroke-width="1.5"/>
<path class="n" d="M176 1350 l6 5 M186 1350 l6 5" stroke-width="1.5"/>
<path class="n" d="M118 1390 h10 M135 1390 h5 M150 1390 h5 M165 1390 h10 M180 1390 h10 M213 1390 h4 M230 1390 h18 M260 1390 h4 M270 1393 l20 -6 M300 1390 h8 M315 1390 h12" stroke-width="2"/>
<circle class="k" cx="152" cy="1390" r="2"/><circle class="k" cx="203" cy="1390" r="2.5"/><circle class="k" cx="215" cy="1395" r="2.5"/>
<path class="p" d="M346 1285 Q389 1280 432 1285 V1295 Q389 1290 346 1295 Z"/>
<ellipse class="p" cx="473" cy="1282" rx="24" ry="5" transform="rotate(24.4 473 1282)"/>
<ellipse class="p" cx="517.5" cy="1282.5" rx="24" ry="5" transform="rotate(-22.9 517.5 1282.5)"/>
<ellipse class="p" cx="495" cy="1320" rx="28" ry="4" transform="rotate(90 495 1320)"/>
<circle class="p" cx="495" cy="1292" r="5"/>
<path class="p" d="M352 1330 Q360 1310 368 1330 Z" fill="#555"/><path class="p" d="M380 1330 Q388 1310 396 1330 Z"/><rect class="p" x="383" y="1318" width="10" height="10"/><path class="p" d="M410 1330 Q418 1310 426 1330 Z"/>
<path class="p" d="M340 1382 h8 v14 h-8 z M336 1382 l16 14"/><rect class="p" x="360" y="1383" width="12" height="12"/><path class="n" d="M360 1389 h12"/>
<ellipse class="p" cx="405" cy="1388" rx="4" ry="3"/><rect class="k" x="428" y="1382" width="8" height="3"/>
<g class="k"><circle cx="442" cy="1390" r="2"/><circle cx="458" cy="1390" r="2"/><circle cx="475" cy="1390" r="2"/><circle cx="492" cy="1390" r="2"/><circle cx="510" cy="1390" r="2"/><circle cx="522" cy="1390" r="2"/><circle cx="535" cy="1390" r="2"/></g>
</g>
<rect class="sl" x="140" y="1121" width="66" height="16"/>
<text class="st" x="142" y="1134" textLength="61" lengthAdjust="spacingAndGlyphs">82160 R</text>

<!-- SPRUE S -->
<g clip-path="url(#cS)" class="b">
<rect x="668" y="1132" width="174" height="56"/>
<rect x="625" y="1188" width="72" height="84"/><rect x="751" y="1188" width="91" height="84"/><rect x="697" y="1242" width="54" height="30"/>
<rect x="842" y="1172" width="217" height="100"/>
<rect x="749" y="1272" width="93" height="60"/><rect x="842" y="1272" width="93" height="65"/>
<rect x="625" y="1385" width="217" height="29"/><rect x="842" y="1377" width="104" height="37"/><rect x="1000" y="1377" width="59" height="37"/>
</g>
<rect x="625" y="1126" width="434" height="288" rx="35" class="g"/>
<path class="g" d="M668 1126 V1188 M625 1188 H842 M842 1126 V1414 M842 1170 H1059 M625 1272 H1059 M749 1272 V1332 M749 1332 H842 M625 1382 H842 M935 1272 V1377 M842 1337 H935 M842 1377 H1059"/>
<path class="gt" d="M692 1188 V1194 M717 1188 V1194 M740 1188 V1194 M763 1188 V1194 M669 1188 V1208 M722 1188 V1208 M675 1262 V1272 M725 1262 V1272 M772 1255 V1272 M804 1255 V1272 M866 1150 V1170 M882 1150 V1170 M927 1150 V1170 M940 1150 V1170 M873 1255 V1272 M900 1255 V1272 M989 1255 V1272 M774 1332 V1345 M808 1332 V1345 M785 1330 V1340 M878 1337 V1346 M905 1337 V1346 M869 1320 V1337 M897 1320 V1337 M691 1378 V1382 M775 1368 V1382 M808 1368 V1382 M993 1377 V1378"/>
<g>
<g class="p">
<path d="M688 1142 h8 v50 h-8 z"/><path d="M712 1142 h8 v50 h-8 z"/><path d="M736 1142 h8 v50 h-8 z"/><path d="M759 1142 h8 v50 h-8 z"/>
<path d="M780 1160 L790 1145 L796 1150 L788 1172 L782 1190 L776 1188 Z"/><path d="M805 1145 L812 1142 L822 1185 L815 1190 Z"/>
</g>
<path class="n" d="M686 1150 h12 M686 1160 h12 M686 1170 h12 M686 1180 h12 M710 1150 h12 M710 1160 h12 M710 1170 h12 M710 1180 h12 M734 1150 h12 M734 1160 h12 M734 1170 h12 M734 1180 h12 M757 1150 h12 M757 1160 h12 M757 1170 h12 M757 1180 h12 M805 1155 h10 M808 1165 h10 M811 1175 h10" stroke-width="1.5"/>
<path class="p" d="M862 1150 h26 l-5 9 h-16 z"/><path class="p" d="M912 1150 h30 l-5 9 h-22 z"/><circle class="p" cx="979" cy="1155" r="3"/><circle class="p" cx="991" cy="1155" r="3"/>
<ellipse class="p" cx="669" cy="1220" rx="11" ry="13"/><ellipse class="p" cx="722" cy="1220" rx="11" ry="13"/>
<path class="p" d="M640 1268 Q640 1238 660 1238 Q680 1238 688 1245 Q700 1238 720 1238 Q738 1240 735 1268 L728 1262 Q720 1250 700 1252 L688 1262 L676 1252 Q655 1250 648 1262 Z"/>
<path class="n" d="M650 1242 V1262 M658 1240 V1262 M666 1239 V1262 M674 1240 V1262 M700 1239 V1262 M708 1239 V1262 M716 1240 V1262 M724 1242 V1262"/>
<path class="p" d="M762 1215 Q762 1210 770 1208 L785 1208 Q785 1230 786 1255 L764 1255 Z"/><path class="p" d="M792 1208 L807 1208 Q815 1210 815 1215 L813 1255 L791 1255 Q792 1230 792 1208 Z"/>
<path class="p" d="M862 1250 L872 1190 L884 1190 L878 1252 Z"/><path class="p" d="M885 1190 L897 1190 L906 1252 L894 1252 Z"/>
<path class="n" d="M872 1200 h10 M870 1215 h10 M867 1230 h10 M888 1200 h10 M890 1215 h10 M892 1230 h10"/>
<ellipse class="p" cx="989" cy="1207" rx="27" ry="4" transform="rotate(90 989 1207)"/>
<ellipse class="p" cx="967" cy="1248.5" rx="26" ry="5" transform="rotate(-31.5 967 1248.5)"/>
<ellipse class="p" cx="1011.5" cy="1248.5" rx="26" ry="5" transform="rotate(31 1011.5 1248.5)"/>
<circle class="p" cx="989" cy="1235" r="5"/>
<ellipse class="p" cx="670.5" cy="1287.5" rx="27" ry="5" transform="rotate(40.5 670.5 1287.5)"/>
<ellipse class="p" cx="712" cy="1287.5" rx="27" ry="5" transform="rotate(-39.8 712 1287.5)"/>
<ellipse class="p" cx="691" cy="1341.5" rx="36" ry="4" transform="rotate(90 691 1341.5)"/>
<circle class="p" cx="691" cy="1305" r="5"/>
<ellipse class="p" cx="972.5" cy="1287.5" rx="27" ry="5" transform="rotate(40.5 972.5 1287.5)"/>
<ellipse class="p" cx="1014" cy="1287.5" rx="27" ry="5" transform="rotate(-39.8 1014 1287.5)"/>
<ellipse class="p" cx="993" cy="1341.5" rx="36" ry="4" transform="rotate(90 993 1341.5)"/>
<circle class="p" cx="993" cy="1305" r="5"/>
<rect class="p" x="762" y="1290" width="48" height="40"/><path class="n" d="M762 1297 H810 M786 1313 h8"/>
<path class="p" d="M868 1282 Q868 1276 884 1278 L884 1325 L874 1328 Q866 1305 868 1282 Z"/><path class="p" d="M888 1278 Q904 1276 904 1282 Q906 1305 898 1328 L888 1325 Z"/>
<circle class="p" cx="878" cy="1356" r="10"/><circle class="n" cx="878" cy="1356" r="5" stroke-width="2"/>
<circle class="p" cx="905" cy="1356" r="10"/><circle class="n" cx="905" cy="1356" r="5" stroke-width="2"/>
<path class="p" d="M755 1345 L825 1338 L828 1368 L755 1370 Z"/><path class="n" d="M768 1343 V1370 M782 1342 V1369 M796 1341 V1369 M810 1339 V1368 M755 1360 H828"/>
<path class="n" d="M680 1398 l4 -5 l4 5 M692 1398 l4 -5 l4 5 M712 1398 v-6 h4 v6 M725 1398 v-6 h4 v6 M738 1398 v-6 h4 v6 M752 1398 v-6 h4 v6 M765 1398 v-6 h4 v6" stroke-width="1.5"/>
<rect class="p" x="850" y="1392" width="28" height="8"/><path class="n" d="M855 1392 v8 M862 1392 v8 M869 1392 v8"/>
<rect class="p" x="885" y="1392" width="28" height="8"/><path class="n" d="M890 1392 v8 M897 1392 v8 M904 1392 v8"/>
<path class="n" d="M958 1390 q-4 5 0 10 M975 1395 h3 M1008 1388 h5 v4 h-5 z" stroke-width="1.5"/>
</g>
<rect class="sl" x="845" y="1119" width="67" height="16"/>
<text class="st" x="847" y="1132" textLength="62" lengthAdjust="spacingAndGlyphs">82160 S</text>

<!-- MASK -->
<text x="1155" y="1156" text-anchor="middle" font-size="20" font-weight="bold" fill="#fff" stroke="#555" stroke-width="1" textLength="108" lengthAdjust="spacingAndGlyphs">eduard</text>
<rect x="1101" y="1158" width="108" height="2.5" fill="#444"/>
<text x="1154" y="1176" text-anchor="middle" font-size="17" font-weight="bold" fill="#111" textLength="118" lengthAdjust="spacingAndGlyphs">MASK</text>
<rect x="1086" y="1186" width="137" height="181" fill="#b5b5b5" stroke="#444" stroke-width="1.2"/>
<g fill="none" stroke="#f2f2f2" stroke-width="1.3">
<path d="M1112 1200 L1094 1235 L1112 1242 Z"/><path d="M1112 1245 L1094 1252 L1112 1280 Z"/>
<rect x="1117" y="1192" width="33" height="85" rx="10"/>
<rect x="1122" y="1203" width="24" height="26"/><rect x="1122" y="1240" width="24" height="26"/>
<rect x="1153" y="1195" width="22" height="28"/><rect x="1153" y="1230" width="22" height="32"/>
<circle cx="1205" cy="1196" r="3.5"/><circle cx="1205" cy="1207" r="3.5"/><circle cx="1200" cy="1220" r="3.5"/><circle cx="1210" cy="1220" r="3.5"/><circle cx="1205" cy="1233" r="3.5"/><circle cx="1205" cy="1246" r="3.5"/><circle cx="1205" cy="1259" r="3.5"/>
<path d="M1112 1290 L1094 1322 L1112 1328 Z"/><path d="M1112 1332 L1094 1338 L1112 1362 Z"/>
<rect x="1117" y="1280" width="33" height="84" rx="10"/>
<rect x="1122" y="1291" width="24" height="26"/><rect x="1122" y="1328" width="24" height="26"/>
<rect x="1153" y="1283" width="22" height="28"/><rect x="1153" y="1318" width="22" height="30"/>
<circle cx="1205" cy="1283" r="3.5"/><circle cx="1205" cy="1295" r="3.5"/><circle cx="1200" cy="1308" r="3.5"/><circle cx="1210" cy="1308" r="3.5"/><circle cx="1205" cy="1320" r="3.5"/><circle cx="1205" cy="1333" r="3.5"/>
</g>
<g fill="none" stroke="#6a6a6a" stroke-width="0.8">
<rect x="1119" y="1194" width="29" height="81" rx="9"/><rect x="1119" y="1282" width="29" height="80" rx="9"/>
</g>
<text x="1166" y="1362" font-size="19" fill="#c9c9c9" stroke="#666" stroke-width="0.7" textLength="46" lengthAdjust="spacingAndGlyphs">11146</text>
</g>

<!-- legend -->
<rect x="64" y="1430" width="60" height="20" fill="#bee3f8" stroke="#555" stroke-width="1"/>
<text x="130" y="1444" font-size="11.5" fill="#1e90d8" textLength="599" lengthAdjust="spacingAndGlyphs">-Parts not for use. -Teile werden nicht verwendet. -Pièces à ne pas utiliser. -Tyto díly nepoužívejte při stavbě. -</text>
<text x="741" y="1444" font-size="10" font-weight="bold" fill="#1e90d8" style="font-family:'Liberation Sans','Noto Sans CJK JP',sans-serif" textLength="69" lengthAdjust="spacingAndGlyphs">使用しない部品</text>

<!-- header 4 text -->
<text class="hd" x="76" y="1483" textLength="114" lengthAdjust="spacingAndGlyphs">COLOURS</text>
<text class="hd" x="363" y="1483" textLength="79" lengthAdjust="spacingAndGlyphs">BARVY</text>
<text class="hd" x="617" y="1483" textLength="93" lengthAdjust="spacingAndGlyphs">FARBEN</text>
<text class="hd" x="882" y="1483" textLength="119" lengthAdjust="spacingAndGlyphs">PEINTURE</text>
<text x="1173" y="1483" fill="#fff" font-size="21" font-weight="bold" style="font-family:'Liberation Sans','Noto Sans CJK JP',sans-serif">色</text>

<!-- ===== LEFT TABLE ===== -->
<rect x="104" y="1513" width="295" height="37" fill="#dcdcdc"/>
<g class="tl" fill="none">
<path d="M104 1513 H399 M104 1532 H399 M104 1550 H597"/>
<path d="M104 1568.2 H597 M104 1586.4 H597 M104 1604.5 H597 M104 1622.7 H597 M104 1640.9 H597 M104 1659.1 H597 M104 1677.3 H597 M104 1695.4 H597 M104 1713.6 H597 M104 1731.8 H597 M104 1750 H597"/>
<path d="M104 1513 V1750 M211 1532 V1750 M316 1513 V1750 M399 1513 V1750 M597 1550 V1750"/>
</g>
<text class="tc" x="210" y="1526.5">GSi Creos (GUNZE)</text>
<text x="357.5" y="1526" font-size="8.5" text-anchor="middle" fill="#111" textLength="76" lengthAdjust="spacingAndGlyphs">MISSION MODELS</text>
<text class="tc" x="157.5" y="1545">AQUEOUS</text><text class="tc" x="263.5" y="1545">Mr.COLOR</text><text class="tc" x="357.5" y="1545">PAINTS</text>

<g>
<rect class="hb" x="140.5" y="1553.5" width="34" height="11"/><text class="ht" x="157.5" y="1563">H3</text>
<rect class="hb" x="140.5" y="1571.7" width="34" height="11"/><text class="ht" x="157.5" y="1581.2">H4</text>
<rect class="hb" x="140.5" y="1589.9" width="34" height="11"/><text class="ht" x="157.5" y="1599.4">H8</text>
<rect class="hb" x="139.5" y="1608" width="36" height="11"/><text class="ht" x="157.5" y="1617.5">H11</text>
<rect class="hb" x="139.5" y="1626.2" width="36" height="11"/><text class="ht" x="157.5" y="1635.7">H12</text>
<rect class="hb" x="139.5" y="1644.4" width="36" height="11"/><text class="ht" x="157.5" y="1653.9">H33</text>
<rect class="hb" x="139.5" y="1662.6" width="36" height="11"/><text class="ht" x="157.5" y="1672.1">H51</text>
<rect class="hb" x="139.5" y="1680.8" width="36" height="11"/><text class="ht" x="157.5" y="1690.3">H72</text>
<rect class="hb" x="139.5" y="1698.9" width="36" height="11"/><text class="ht" x="157.5" y="1708.4">H74</text>
<rect class="hb" x="139.5" y="1717.1" width="36" height="11"/><text class="ht" x="157.5" y="1726.6">H77</text>
<rect class="hb" x="139.5" y="1735.3" width="36" height="11"/><text class="ht" x="157.5" y="1744.8">H90</text>

<rect class="cb" x="249" y="1553.5" width="29" height="11"/><text class="tc" x="263.5" y="1563">C3</text>
<rect class="cb" x="249" y="1571.7" width="29" height="11"/><text class="tc" x="263.5" y="1581.2">C4</text>
<rect class="cb" x="249" y="1589.9" width="29" height="11"/><text class="tc" x="263.5" y="1599.4">C8</text>
<rect class="cb" x="249" y="1608" width="29" height="11"/><text class="tc" x="263.5" y="1617.5">C62</text>
<rect class="cb" x="249" y="1626.2" width="29" height="11"/><text class="tc" x="263.5" y="1635.7">C33</text>
<rect class="cb" x="249" y="1644.4" width="29" height="11"/><text class="tc" x="263.5" y="1653.9">C81</text>
<rect class="cb" x="249" y="1662.6" width="29" height="11"/><text class="tc" x="263.5" y="1672.1">C11</text>
<rect class="cb" x="249" y="1680.8" width="29" height="11"/><text class="tc" x="263.5" y="1690.3" textLength="26" lengthAdjust="spacingAndGlyphs">C369</text>
<rect class="cb" x="249" y="1698.9" width="29" height="11"/><text class="tc" x="263.5" y="1708.4" textLength="26" lengthAdjust="spacingAndGlyphs">C368</text>
<rect class="cb" x="249" y="1717.1" width="29" height="11"/><text class="tc" x="263.5" y="1726.6" textLength="26" lengthAdjust="spacingAndGlyphs">C137</text>
<rect class="cb" x="249" y="1735.3" width="29" height="11"/><text class="tc" x="263.5" y="1744.8">C47</text>

<rect class="hb" x="331" y="1553.5" width="53" height="11"/><text class="mt" x="357.5" y="1563">MMP-003</text>
<rect class="hb" x="331" y="1571.7" width="53" height="11"/><text class="mt" x="357.5" y="1581.2">MMP-007</text>
<rect class="hb" x="331" y="1608" width="53" height="11"/><text class="mt" x="357.5" y="1617.5">MMP-001</text>
<rect class="hb" x="331" y="1626.2" width="53" height="11"/><text class="mt" x="357.5" y="1635.7">MMP-047</text>
<rect class="hb" x="331" y="1662.6" width="53" height="11"/><text class="mt" x="357.5" y="1672.1">MMP-063</text>
<rect class="hb" x="331" y="1680.8" width="53" height="11"/><text class="mt" x="357.5" y="1690.3">MMP-078</text>
<rect class="hb" x="331" y="1698.9" width="53" height="11"/><text class="mt" x="357.5" y="1708.4">MMP-080</text>
<rect class="hb" x="331" y="1717.1" width="53" height="11"/><text class="mt" x="357.5" y="1726.6">MMP-040</text>

<g class="tt">
<text x="407" y="1563">RED</text><text x="407" y="1581.2">YELLOW</text><text x="407" y="1599.4">SILVER</text><text x="407" y="1617.5">FLAT WHITE</text>
<text x="407" y="1635.7">FLAT BLACK</text><text x="407" y="1653.9">RUSSET</text><text x="407" y="1672.1">LIGHT GULL GRAY</text><text x="407" y="1690.3">DARK EARTH</text>
<text x="407" y="1708.4">SKY</text><text x="407" y="1726.6">TIRE BLACK</text><text x="407" y="1744.8">CLEAR RED</text>
</g>
</g>

<!-- ===== RIGHT TABLE ===== -->
<rect x="671" y="1513" width="295" height="37" fill="#dcdcdc"/>
<rect x="671" y="1659.1" width="295" height="18.2" fill="#dcdcdc"/>
<rect x="671" y="1713.6" width="295" height="18.2" fill="#dcdcdc"/>
<g class="tl" fill="none">
<path d="M671 1513 H966 M671 1532 H966 M671 1550 H1163"/>
<path d="M671 1568.2 H1163 M671 1586.4 H1163 M671 1604.5 H1163 M671 1622.7 H1163 M671 1640.9 H1163 M671 1659.1 H1163 M671 1677.3 H1163 M671 1695.4 H1163 M671 1713.6 H1163 M671 1731.8 H1163 M671 1750 H1163"/>
<path d="M671 1513 V1750 M776 1532 V1659.1 M882 1513 V1750 M966 1513 V1750 M1163 1550 V1659.1 M1163 1677.3 V1713.6 M1163 1731.8 V1750"/>
</g>
<text class="tc" x="776.5" y="1526.5">GSi Creos (GUNZE)</text>
<text x="924" y="1526" font-size="8.5" text-anchor="middle" fill="#111" textLength="76" lengthAdjust="spacingAndGlyphs">MISSION MODELS</text>
<text class="tc" x="723.5" y="1545">AQUEOUS</text><text class="tc" x="829" y="1545">Mr.COLOR</text><text class="tc" x="924" y="1545">PAINTS</text>

<rect class="hb" x="705.5" y="1553.5" width="36" height="11"/><text class="ht" x="723.5" y="1563">H94</text>
<rect class="hb" x="704.5" y="1571.7" width="38" height="11"/><text class="ht" x="723.5" y="1581.2">H330</text>
<rect class="hb" x="704.5" y="1589.9" width="38" height="11"/><text class="ht" x="723.5" y="1599.4">H335</text>
<rect class="hb" x="704.5" y="1608" width="38" height="11"/><text class="ht" x="723.5" y="1617.5">H417</text>

<rect class="cb" x="813.5" y="1553.5" width="31" height="11"/><text class="tc" x="829" y="1563">C138</text>
<rect class="cb" x="813.5" y="1571.7" width="31" height="11"/><text class="tc" x="829" y="1581.2">C361</text>
<rect class="cb" x="813.5" y="1589.9" width="31" height="11"/><text class="tc" x="829" y="1599.4">C363</text>
<rect class="cb" x="813.5" y="1608" width="31" height="11"/><text class="tc" x="829" y="1617.5">C117</text>
<rect class="cb" x="813.5" y="1626.2" width="31" height="11"/><text class="tc" x="829" y="1635.7">C362</text>
<rect class="cb" x="813.5" y="1644.4" width="31" height="11"/><text class="tc" x="829" y="1653.9">C364</text>

<rect class="hb" x="896.5" y="1571.7" width="55" height="11"/><text class="mt" x="924" y="1581.2">MMP-077</text>
<rect class="hb" x="896.5" y="1589.9" width="55" height="11"/><text class="mt" x="924" y="1599.4">MMP-094</text>
<rect class="hb" x="896.5" y="1608" width="55" height="11"/><text class="mt" x="924" y="1617.5">MMP-051</text>
<rect class="hb" x="896.5" y="1626.2" width="55" height="11"/><text class="mt" x="924" y="1635.7">MMP-093</text>
<rect class="hb" x="896.5" y="1644.4" width="55" height="11"/><text class="mt" x="924" y="1653.9">MMP-079</text>

<text class="tc" x="776.5" y="1672.1">Mr.METAL COLOR</text><text class="tc" x="924" y="1672.1">METALLICS</text>
<rect class="hb" x="757" y="1680.8" width="39" height="11"/><text class="ht" x="776.5" y="1690.3">MC214</text>
<rect class="hb" x="757" y="1698.9" width="39" height="11"/><text class="ht" x="776.5" y="1708.4">MC218</text>
<rect class="hb" x="896.5" y="1680.8" width="55" height="11"/><text class="mt" x="924" y="1690.3">MMM-001</text>
<rect class="hb" x="896.5" y="1698.9" width="55" height="11"/><text class="mt" x="924" y="1708.4">MMM-003</text>
<text class="tc" x="776.5" y="1726.6">Mr.COLOR SUPER METALLIC</text><text class="tc" x="924" y="1726.6">METALLICS</text>
<rect class="hb" x="757" y="1735.3" width="39" height="11"/><text class="ht" x="776.5" y="1744.8">SM201</text>
<rect class="hb" x="896.5" y="1735.3" width="55" height="11"/><text class="mt" x="924" y="1744.8">MMC-001</text>

<g class="tt">
<text x="973" y="1563">CLEAR GREEN</text><text x="973" y="1581.2">DARK GREEN</text><text x="973" y="1599.4">MEDIUM SEAGRAY</text><text x="973" y="1617.5">LIGHT BLUE</text>
<text x="973" y="1635.7">OCEAN GRAY</text><text x="973" y="1653.9">AIRCRAFT GRAY-GREEN</text>
<text x="973" y="1690.3">DARK IRON</text><text x="973" y="1708.4">ALUMINIUM</text><text x="973" y="1744.8">SUPER FINE SILVER</text>
</g>

<text x="35" y="1766" font-size="15" font-weight="bold" fill="#111">4</text>
</svg>
</body></html>
